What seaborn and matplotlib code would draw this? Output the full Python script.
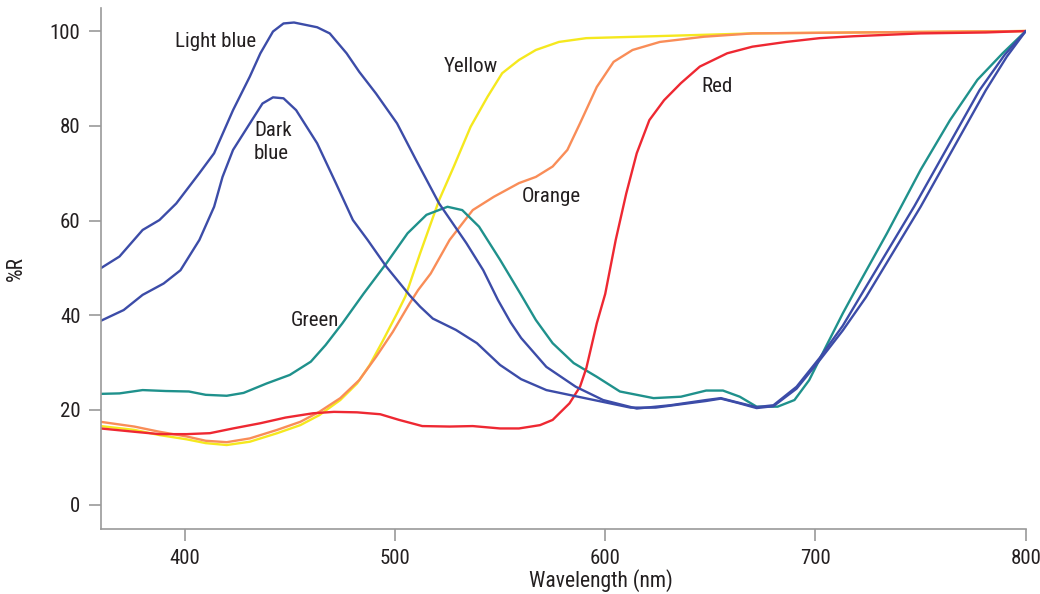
import numpy as np
import pandas as pd
import matplotlib
matplotlib.use("Agg")
import matplotlib.pyplot as plt
import seaborn as sns
from matplotlib import font_manager

# ---- data ----
light_blue_nm = [360, 369, 380, 388, 396, 407, 414, 423, 431, 436, 442, 447, 452, 463, 469, 477, 483, 491,
                 501, 510, 521, 534, 542, 549, 555, 560, 572, 586, 599, 615, 631, 648, 655, 662, 672, 680,
                 691, 702, 713, 722, 747, 778, 790, 800]
light_blue_r = [49.9, 52.4, 58.0, 60.1, 63.6, 70.0, 74.2, 83.3, 90.4, 95.3, 99.9, 101.6, 101.8, 100.8, 99.5,
                95.3, 91.4, 86.8, 80.5, 72.8, 63.6, 55.2, 49.5, 43.2, 38.5, 35.2, 29.1, 24.9, 22.1, 20.3,
                21.0, 22.1, 22.5, 21.7, 20.6, 21.0, 24.9, 31.0, 37.8, 44.5, 63.0, 87.5, 95.0, 100.0]

dark_blue_nm = [360, 371, 380, 390, 398, 407, 414, 418, 423, 431, 437, 442, 447, 453, 463, 472, 480, 487,
                496, 507, 512, 518, 529, 539, 550, 560, 572, 586, 599, 612, 624, 636, 648, 655, 663, 672,
                680, 691, 702, 713, 724, 750, 766, 781, 791, 800]
dark_blue_r = [38.8, 41.1, 44.3, 46.7, 49.5, 55.9, 62.9, 69.2, 74.9, 80.5, 84.7, 86.0, 85.8, 83.3, 76.3,
               67.8, 60.1, 55.9, 50.2, 44.2, 41.8, 39.3, 36.9, 34.1, 29.5, 26.5, 24.2, 22.9, 21.7, 20.5,
               20.5, 21.2, 21.9, 22.4, 21.5, 20.4, 20.8, 24.5, 30.5, 36.8, 43.8, 62.9, 75.6, 87.5, 94.6, 100.0]

green_nm = [360, 369, 380, 391, 402, 410, 420, 428, 439, 450, 460, 467, 475, 485, 496, 506, 515, 525, 532,
            540, 550, 560, 567, 575, 585, 596, 607, 623, 636, 648, 656, 664, 672, 682, 690, 697, 705, 713,
            719, 734, 750, 764, 777, 789, 800]
green_r = [23.4, 23.5, 24.2, 24.0, 23.9, 23.2, 23.0, 23.6, 25.6, 27.4, 30.2, 33.7, 38.3, 44.5, 51.0, 57.3,
           61.2, 62.9, 62.2, 58.7, 51.7, 44.3, 39.0, 34.1, 29.9, 27.0, 23.9, 22.5, 22.8, 24.1, 24.1, 22.8,
           20.7, 20.7, 22.1, 26.3, 33.4, 40.4, 45.3, 57.3, 70.7, 81.2, 89.7, 95.3, 100.0]

yellow_nm = [360, 376, 388, 401, 410, 420, 431, 444, 455, 464, 474, 482, 488, 494, 501, 505, 512, 521, 528,
             536, 544, 551, 559, 567, 578, 591, 623, 670, 720, 800]
yellow_r = [16.6, 15.8, 14.7, 13.8, 13.0, 12.6, 13.3, 15.1, 16.8, 18.9, 22.1, 25.6, 29.5, 34.4, 40.4, 44.0,
            53.1, 64.3, 71.4, 79.8, 86.1, 91.1, 93.9, 96.0, 97.7, 98.5, 98.9, 99.5, 99.7, 100.0]

orange_nm = [360, 376, 388, 401, 410, 420, 431, 444, 455, 464, 474, 483, 491, 499, 507, 511, 517, 526, 537,
             547, 559, 567, 575, 582, 588, 596, 604, 613, 626, 647, 670, 720, 800]
orange_r = [17.5, 16.5, 15.4, 14.4, 13.5, 13.2, 14.0, 15.8, 17.5, 19.6, 22.5, 26.3, 31.2, 36.5, 42.5, 45.3,
            48.8, 55.9, 62.2, 65.0, 67.9, 69.2, 71.4, 74.9, 80.5, 88.2, 93.5, 96.0, 97.7, 98.8, 99.5, 99.7,
            100.0]

red_nm = [360, 376, 388, 401, 412, 423, 436, 448, 461, 471, 482, 493, 502, 513, 526, 537, 550, 559, 569, 575,
          583, 588, 591, 596, 600, 605, 610, 615, 621, 628, 636, 645, 658, 670, 686, 702, 718, 750, 781, 800]
red_r = [16.1, 15.4, 14.9, 14.9, 15.1, 16.1, 17.2, 18.4, 19.3, 19.6, 19.5, 19.1, 17.9, 16.6, 16.5, 16.6,
         16.1, 16.1, 16.8, 17.9, 21.4, 24.9, 28.8, 38.3, 44.5, 55.9, 65.7, 74.2, 81.2, 85.4, 89.0, 92.5,
         95.3, 96.7, 97.7, 98.5, 98.9, 99.5, 99.7, 100.0]

series_names = ["Yellow", "Orange", "Green", "Red", "Dark blue", "Light blue"]
series_data = {
    "Light blue": (light_blue_nm, light_blue_r),
    "Dark blue": (dark_blue_nm, dark_blue_r),
    "Green": (green_nm, green_r),
    "Yellow": (yellow_nm, yellow_r),
    "Orange": (orange_nm, orange_r),
    "Red": (red_nm, red_r),
}
colors = {
    "Light blue": "#3c4ca8",
    "Dark blue": "#3c4ca8",
    "Green": "#1f918c",
    "Yellow": "#f5e81e",
    "Orange": "#f98d58",
    "Red": "#ee2832",
}
x_ticks = [400, 500, 600, 700, 800]
y_ticks = [0, 20, 40, 60, 80, 100]

# label positions (data coords)
labels = [
    ("Light blue", 414.6, 97.8, "center"),
    ("Dark\nblue", 433.0, 76.6, "left"),
    ("Yellow", 536.2, 92.6, "center"),
    ("Green", 462.0, 38.8, "center"),
    ("Orange", 574.2, 65.1, "center"),
    ("Red", 653.2, 88.2, "center"),
]

rows = []
for name in series_names:
    xs, ys = series_data[name]
    for x, y in zip(xs, ys):
        rows.append({"series": name, "nm": x, "R": y})
df = pd.DataFrame(rows)

sns.set_theme(style="white")
available = {f.name for f in font_manager.fontManager.ttflist}
preferred = ["Liberation Sans Narrow", "Roboto Condensed", "DejaVu Sans Condensed",
             "Open Sans Condensed", "Liberation Sans", "DejaVu Sans"]
chain = [f for f in preferred if f in available] or ["DejaVu Sans"]
plt.rcParams["font.family"] = chain
condensed = chain[0] in ("Liberation Sans Narrow", "Roboto Condensed",
                         "DejaVu Sans Condensed", "Open Sans Condensed")
tick_fs = 15.0 if condensed else 13.5
axlab_fs = 15.5 if condensed else 14.0
lab_fs = 15.0 if condensed else 13.5

fig = plt.figure(figsize=(10.4, 5.94), dpi=100)
ax = fig.add_axes([0.0967, 0.1099, 0.8896, 0.8766])

for name in series_names:
    sub = df[df["series"] == name]
    sns.lineplot(data=sub, x="nm", y="R", color=colors[name], lw=1.7,
                 estimator=None, sort=True, legend=False, ax=ax)

ax.set_xlim(360, 800)
ax.set_ylim(-5.07, 104.86)
ax.set_xticks(x_ticks)
ax.set_yticks(y_ticks)

sns.despine(ax=ax)
for side in ["left", "bottom"]:
    ax.spines[side].set_color("#9a9a9a")
    ax.spines[side].set_linewidth(1.2)
ax.tick_params(axis="both", which="major", direction="out", length=8.5, width=1.2,
               color="#9a9a9a", labelsize=tick_fs, labelcolor="#231f20", pad=6,
               bottom=True, left=True)

ax.set_xlabel("Wavelength (nm)", fontsize=axlab_fs, color="#231f20")
ax.set_ylabel("%R", fontsize=axlab_fs, color="#231f20")
ax.xaxis.set_label_coords(0.541, -0.078)
ax.yaxis.set_label_coords(-0.080, 0.50)

for text, x, y, ha in labels:
    ax.text(x, y, text, ha=ha, va="center", fontsize=lab_fs, color="#231f20",
            linespacing=1.3)

fig.savefig("out.png", dpi=100)
